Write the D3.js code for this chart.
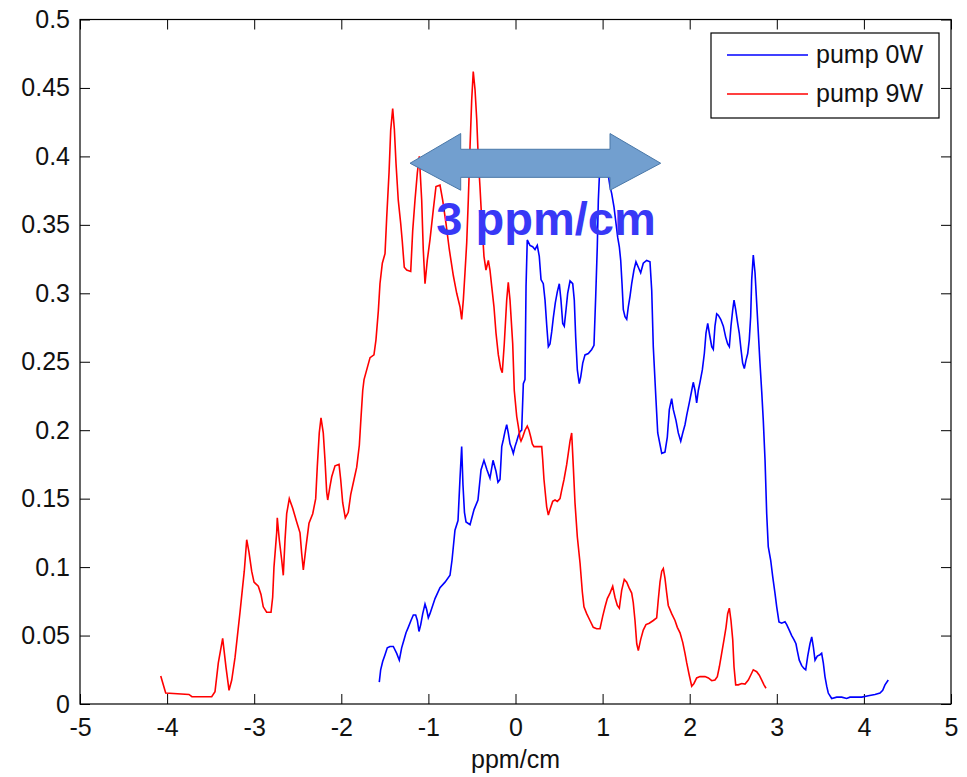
<!DOCTYPE html>
<html lang="en">
<head>
<meta charset="utf-8">
<title>pump 0W / pump 9W</title>
<script src="https://cdn.jsdelivr.net/npm/d3@7"></script>
<style>
    body { margin: 0; background: #fff; }
    svg { display: block; font-family: "Liberation Sans", Arial, sans-serif; }
    .tick text { font-size: 25px; fill: #111; }
    .tick line { stroke: #000; }
    .domain { display: none; }
</style>
</head>
<body>
<script>
    // series: [ppm/cm, value]
    var pump0W = [
        [-1.564,0.016],[-1.548,0.025],[-1.525,0.031],[-1.498,0.036],[-1.472,0.041],[-1.441,0.042],
        [-1.403,0.042],[-1.364,0.037],[-1.334,0.032],[-1.307,0.041],[-1.280,0.047],[-1.257,0.052],
        [-1.231,0.056],[-1.200,0.061],[-1.173,0.065],[-1.146,0.065],[-1.127,0.061],[-1.108,0.053],
        [-1.088,0.058],[-1.065,0.066],[-1.039,0.073],[-1.020,0.069],[-1.001,0.063],[-0.982,0.066],
        [-0.924,0.077],[-0.867,0.085],[-0.809,0.089],[-0.752,0.094],[-0.729,0.105],[-0.695,0.127],
        [-0.660,0.134],[-0.637,0.165],[-0.618,0.188],[-0.603,0.160],[-0.586,0.140],[-0.568,0.133],
        [-0.522,0.131],[-0.476,0.142],[-0.431,0.149],[-0.396,0.171],[-0.362,0.178],[-0.327,0.171],
        [-0.293,0.165],[-0.258,0.178],[-0.224,0.170],[-0.201,0.162],[-0.178,0.164],[-0.158,0.188],
        [-0.140,0.193],[-0.121,0.199],[-0.101,0.204],[-0.083,0.198],[-0.063,0.190],[-0.044,0.187],
        [-0.025,0.183],[-0.006,0.188],[0.014,0.192],[0.032,0.196],[0.052,0.199],[0.071,0.200],
        [0.090,0.234],[0.109,0.237],[0.121,0.305],[0.135,0.339],[0.166,0.335],[0.197,0.334],
        [0.224,0.332],[0.250,0.335],[0.273,0.327],[0.293,0.310],[0.319,0.307],[0.339,0.295],
        [0.358,0.277],[0.377,0.261],[0.396,0.263],[0.416,0.272],[0.434,0.282],[0.457,0.293],
        [0.480,0.301],[0.503,0.307],[0.522,0.295],[0.542,0.278],[0.560,0.276],[0.580,0.288],
        [0.599,0.300],[0.626,0.309],[0.657,0.307],[0.675,0.295],[0.691,0.268],[0.710,0.244],
        [0.732,0.234],[0.749,0.239],[0.772,0.249],[0.798,0.255],[0.836,0.256],[0.875,0.259],
        [0.901,0.262],[0.921,0.298],[0.939,0.334],[0.951,0.368],[0.962,0.384],[0.982,0.395],
        [1.010,0.400],[1.039,0.392],[1.068,0.385],[1.085,0.378],[1.104,0.373],[1.131,0.363],
        [1.154,0.351],[1.173,0.341],[1.192,0.334],[1.208,0.324],[1.223,0.307],[1.238,0.288],
        [1.257,0.283],[1.277,0.281],[1.295,0.290],[1.315,0.298],[1.334,0.307],[1.360,0.317],
        [1.383,0.323],[1.410,0.319],[1.437,0.315],[1.467,0.322],[1.506,0.324],[1.544,0.323],
        [1.564,0.302],[1.582,0.261],[1.613,0.222],[1.633,0.198],[1.667,0.187],[1.679,0.183],
        [1.716,0.184],[1.743,0.195],[1.766,0.215],[1.793,0.223],[1.812,0.215],[1.843,0.207],
        [1.869,0.198],[1.897,0.192],[1.920,0.198],[1.946,0.204],[1.966,0.211],[1.995,0.220],
        [2.023,0.229],[2.041,0.235],[2.061,0.229],[2.080,0.220],[2.099,0.229],[2.118,0.235],
        [2.145,0.244],[2.168,0.256],[2.187,0.271],[2.207,0.278],[2.225,0.271],[2.253,0.261],
        [2.271,0.259],[2.290,0.276],[2.310,0.285],[2.328,0.284],[2.356,0.281],[2.386,0.276],
        [2.413,0.268],[2.436,0.263],[2.455,0.261],[2.474,0.276],[2.494,0.288],[2.509,0.295],
        [2.528,0.288],[2.551,0.278],[2.569,0.271],[2.589,0.259],[2.608,0.249],[2.627,0.245],
        [2.646,0.251],[2.666,0.256],[2.684,0.266],[2.700,0.283],[2.712,0.310],[2.730,0.328],
        [2.750,0.315],[2.769,0.293],[2.788,0.271],[2.807,0.249],[2.827,0.228],[2.845,0.207],
        [2.865,0.178],[2.884,0.139],[2.902,0.115],[2.930,0.105],[2.953,0.093],[2.979,0.081],
        [2.999,0.071],[3.025,0.060],[3.056,0.059],[3.094,0.060],[3.114,0.058],[3.143,0.054],
        [3.171,0.050],[3.197,0.047],[3.220,0.044],[3.235,0.039],[3.258,0.032],[3.286,0.028],
        [3.312,0.026],[3.332,0.025],[3.355,0.035],[3.381,0.044],[3.401,0.049],[3.419,0.042],
        [3.439,0.032],[3.465,0.035],[3.496,0.036],[3.515,0.037],[3.534,0.030],[3.553,0.020],
        [3.573,0.013],[3.591,0.008],[3.630,0.004],[3.688,0.005],[3.745,0.005],[3.802,0.004],
        [3.840,0.005],[3.975,0.005],[4.051,0.006],[4.127,0.007],[4.185,0.008],[4.216,0.010],
        [4.242,0.014],[4.280,0.0175]
    ];

    var pump9W = [
        [-4.073,0.0205],[-4.016,0.008],[-3.749,0.007],[-3.715,0.0053],[-3.488,0.0053],[-3.450,0.009],
        [-3.412,0.030],[-3.362,0.048],[-3.324,0.027],[-3.289,0.010],[-3.258,0.0175],[-3.220,0.034],
        [-3.194,0.049],[-3.163,0.067],[-3.137,0.083],[-3.114,0.097],[-3.086,0.120],[-3.060,0.111],
        [-3.029,0.097],[-3.002,0.089],[-2.953,0.086],[-2.922,0.080],[-2.896,0.071],[-2.857,0.067],
        [-2.807,0.067],[-2.788,0.078],[-2.773,0.100],[-2.742,0.125],[-2.735,0.136],[-2.712,0.120],
        [-2.684,0.105],[-2.666,0.094],[-2.646,0.120],[-2.627,0.139],[-2.597,0.150],[-2.558,0.143],
        [-2.512,0.133],[-2.474,0.125],[-2.455,0.110],[-2.436,0.098],[-2.405,0.115],[-2.371,0.132],
        [-2.328,0.139],[-2.294,0.150],[-2.276,0.173],[-2.253,0.198],[-2.233,0.209],[-2.207,0.198],
        [-2.187,0.178],[-2.168,0.155],[-2.156,0.149],[-2.130,0.159],[-2.110,0.166],[-2.072,0.174],
        [-2.026,0.175],[-2.007,0.164],[-1.984,0.147],[-1.954,0.136],[-1.920,0.140],[-1.892,0.153],
        [-1.854,0.164],[-1.823,0.173],[-1.793,0.189],[-1.774,0.209],[-1.754,0.229],[-1.739,0.237],
        [-1.670,0.253],[-1.625,0.255],[-1.602,0.266],[-1.575,0.287],[-1.556,0.307],[-1.529,0.322],
        [-1.498,0.329],[-1.479,0.355],[-1.452,0.388],[-1.433,0.419],[-1.410,0.435],[-1.391,0.420],
        [-1.372,0.395],[-1.346,0.368],[-1.318,0.351],[-1.300,0.338],[-1.277,0.319],[-1.249,0.317],
        [-1.203,0.316],[-1.180,0.346],[-1.154,0.368],[-1.127,0.388],[-1.104,0.400],[-1.077,0.368],
        [-1.059,0.332],[-1.039,0.307],[-1.013,0.324],[-0.982,0.339],[-0.944,0.361],[-0.913,0.378],
        [-0.867,0.379],[-0.836,0.368],[-0.798,0.351],[-0.760,0.332],[-0.714,0.313],[-0.675,0.300],
        [-0.637,0.290],[-0.618,0.281],[-0.599,0.295],[-0.580,0.315],[-0.560,0.337],[-0.542,0.368],
        [-0.522,0.407],[-0.503,0.441],[-0.485,0.462],[-0.465,0.449],[-0.445,0.427],[-0.427,0.398],
        [-0.408,0.378],[-0.388,0.354],[-0.362,0.327],[-0.339,0.317],[-0.312,0.324],[-0.293,0.317],
        [-0.273,0.305],[-0.247,0.290],[-0.224,0.271],[-0.197,0.255],[-0.170,0.245],[-0.152,0.242],
        [-0.129,0.263],[-0.101,0.295],[-0.083,0.308],[-0.063,0.295],[-0.032,0.263],[-0.014,0.229],
        [0.014,0.210],[0.032,0.203],[0.052,0.194],[0.063,0.192],[0.083,0.195],[0.109,0.200],
        [0.135,0.203],[0.155,0.200],[0.175,0.195],[0.193,0.190],[0.212,0.188],[0.301,0.188],
        [0.312,0.179],[0.327,0.164],[0.347,0.151],[0.358,0.144],[0.377,0.138],[0.396,0.142],
        [0.427,0.148],[0.454,0.149],[0.480,0.148],[0.511,0.150],[0.530,0.156],[0.557,0.164],
        [0.588,0.175],[0.606,0.183],[0.626,0.192],[0.645,0.198],[0.664,0.173],[0.683,0.147],
        [0.710,0.122],[0.741,0.103],[0.767,0.082],[0.786,0.071],[0.817,0.066],[0.855,0.061],
        [0.893,0.056],[0.932,0.055],[0.970,0.055],[1.001,0.064],[1.028,0.071],[1.054,0.077],
        [1.085,0.081],[1.116,0.086],[1.142,0.078],[1.169,0.072],[1.192,0.070],[1.219,0.083],
        [1.249,0.091],[1.277,0.089],[1.303,0.085],[1.334,0.081],[1.352,0.074],[1.372,0.061],
        [1.392,0.044],[1.410,0.039],[1.437,0.047],[1.467,0.054],[1.498,0.058],[1.536,0.059],
        [1.582,0.061],[1.621,0.063],[1.639,0.076],[1.659,0.089],[1.679,0.097],[1.697,0.099],
        [1.716,0.092],[1.736,0.081],[1.754,0.072],[1.793,0.066],[1.831,0.061],[1.858,0.056],
        [1.889,0.052],[1.920,0.045],[1.946,0.037],[1.966,0.030],[1.995,0.021],[2.023,0.013],
        [2.049,0.015],[2.080,0.019],[2.118,0.020],[2.176,0.020],[2.214,0.019],[2.253,0.017],
        [2.290,0.0175],[2.317,0.020],[2.340,0.027],[2.367,0.037],[2.394,0.047],[2.417,0.056],
        [2.436,0.066],[2.455,0.070],[2.474,0.061],[2.494,0.047],[2.509,0.027],[2.528,0.014],
        [2.558,0.014],[2.597,0.015],[2.635,0.0146],[2.673,0.0175],[2.700,0.021],[2.730,0.025],
        [2.769,0.0236],[2.799,0.021],[2.827,0.0175],[2.853,0.014],[2.876,0.0115]
    ];

    var seriesNames = ['pump 0W', 'pump 9W'];
    var seriesColors = ['#0000ff', '#ff0000'];
    var xTicks = [-5, -4, -3, -2, -1, 0, 1, 2, 3, 4, 5];
    var yTicks = [0, 0.05, 0.1, 0.15, 0.2, 0.25, 0.3, 0.35, 0.4, 0.45, 0.5];
    var xLabel = 'ppm/cm';

    // annotation: double arrow spanning the shift, in data units
    var arrowTips = [-1.211, 1.667];
    var arrowHeads = [-0.629, 1.085];
    var arrowY = 0.395;
    var arrowBody = [0.3847, 0.4052];
    var arrowHead = [0.3753, 0.4167];
    var arrowText = '3 ppm/cm';
    var arrowTextPos = [0.35, 0.3426];

    var W = 967, H = 777;
    var plotL = 80, plotR = 951, plotT = 19.5, plotB = 704;

    var svg = d3.select('body').append('svg')
        .attr('width', W)
        .attr('height', H);

    var x = d3.scaleLinear().domain([-5, 5]).range([plotL, plotR]);
    var y = d3.scaleLinear().domain([0, 0.5]).range([plotB, plotT]);

    var yFmt = function (d) { return d === 0 ? '0' : String(+d.toFixed(2)); };

    svg.append('g')
        .attr('transform', 'translate(0,' + plotB + ')')
        .call(d3.axisBottom(x).tickValues(xTicks).tickSizeInner(-10).tickSizeOuter(0)
            .tickPadding(14).tickFormat(function (d) { return String(d); }));
    svg.append('g')
        .attr('transform', 'translate(0,' + plotT + ')')
        .call(d3.axisTop(x).tickValues(xTicks).tickSizeInner(-10).tickSizeOuter(0).tickFormat(''));
    svg.append('g')
        .attr('transform', 'translate(' + plotL + ',0)')
        .call(d3.axisLeft(y).tickValues(yTicks).tickSizeInner(-10).tickSizeOuter(0)
            .tickPadding(10).tickFormat(yFmt));
    svg.append('g')
        .attr('transform', 'translate(' + plotR + ',0)')
        .call(d3.axisRight(y).tickValues(yTicks).tickSizeInner(-10).tickSizeOuter(0).tickFormat(''));

    svg.append('rect')
        .attr('x', plotL).attr('y', plotT)
        .attr('width', plotR - plotL).attr('height', plotB - plotT)
        .attr('fill', 'none').attr('stroke', '#000').attr('stroke-width', 1.2);

    svg.append('text')
        .attr('x', (plotL + plotR) / 2).attr('y', 768)
        .attr('text-anchor', 'middle')
        .style('font-size', '25px').attr('fill', '#111')
        .text(xLabel);

    var line = d3.line()
        .x(function (d) { return x(d[0]); })
        .y(function (d) { return y(d[1]); });

    [pump0W, pump9W].forEach(function (s, i) {
        svg.append('path')
            .datum(s)
            .attr('d', line)
            .attr('fill', 'none')
            .attr('stroke', seriesColors[i])
            .attr('stroke-width', 1.6)
            .attr('stroke-linejoin', 'miter');
    });

    // arrow annotation
    var arrowPts = [
        [arrowTips[0], arrowY],
        [arrowHeads[0], arrowHead[1]],
        [arrowHeads[0], arrowBody[1]],
        [arrowHeads[1], arrowBody[1]],
        [arrowHeads[1], arrowHead[1]],
        [arrowTips[1], arrowY],
        [arrowHeads[1], arrowHead[0]],
        [arrowHeads[1], arrowBody[0]],
        [arrowHeads[0], arrowBody[0]],
        [arrowHeads[0], arrowHead[0]]
    ];
    svg.append('path')
        .attr('d', 'M' + arrowPts.map(function (p) { return x(p[0]) + ',' + y(p[1]); }).join('L') + 'Z')
        .attr('fill', '#729fcf')
        .attr('stroke', '#4a78a8')
        .attr('stroke-width', 1);

    svg.append('text')
        .attr('x', x(arrowTextPos[0])).attr('y', y(arrowTextPos[1]))
        .attr('text-anchor', 'middle')
        .style('font-size', '47px').style('font-weight', 'bold')
        .attr('fill', '#3838f6')
        .text(arrowText);

    // legend
    var lg = svg.append('g');
    lg.append('rect')
        .attr('x', 711).attr('y', 33).attr('width', 228).attr('height', 85)
        .attr('fill', '#fff').attr('stroke', '#000').attr('stroke-width', 1.2);
    seriesNames.forEach(function (n, i) {
        var ly = 55 + i * 39;
        lg.append('line')
            .attr('x1', 727).attr('x2', 808).attr('y1', ly).attr('y2', ly)
            .attr('stroke', seriesColors[i]).attr('stroke-width', 1.6);
        lg.append('text')
            .attr('x', 816).attr('y', ly + 8)
            .style('font-size', '25px').attr('fill', '#111')
            .text(n);
    });
</script>
</body>
</html>
